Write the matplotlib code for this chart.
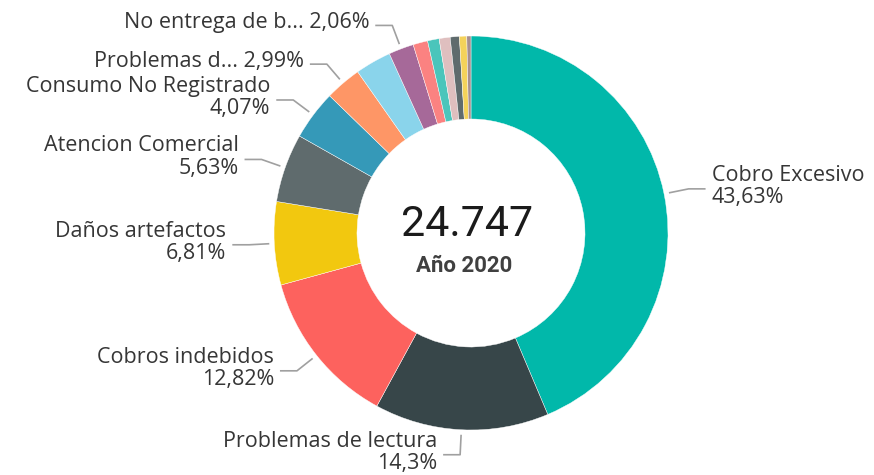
import numpy as np
import matplotlib
matplotlib.use("Agg")
import matplotlib.pyplot as plt

# ---------------- data ----------------
categories = ["Cobro Excesivo", "Problemas de lectura", "Cobros indebidos",
              "Daños artefactos", "Atencion Comercial", "Consumo No Registrado",
              "Problemas d...", "Otro 1", "No entrega de b...", "Otro 2",
              "Otro 3", "Otro 4", "Otro 5", "Otro 6", "Otro 7"]
values = [43.63, 14.30, 12.82, 6.81, 5.63, 4.07, 2.99, 2.95, 2.06,
          1.20, 0.95, 0.90, 0.75, 0.60, 0.34]
shown = [True, True, True, True, True, True, True, False, True,
         False, False, False, False, False, False]
inline = [False, False, False, False, False, False, True, False, True,
          False, False, False, False, False, False]
total_label = "24.747"
year_label = "Año 2020"

colors = ["#01B8AA", "#374649", "#FD625E", "#F2C80F", "#5F6B6D", "#3599B8",
          "#FE9666", "#8AD4EB", "#A66999", "#FB8281", "#4AC5BB", "#DFBFBF",
          "#5F6B6D", "#F4D25A", "#A78F8F"]

# ---------------- layout ----------------
W, H = 874, 475
cx, cy_top = 471, 233
R, ring = 197, 83
FONT = ["Open Sans", "DejaVu Sans"]
TXT = "#363636"
LINE = "#a0a0a0"

fig = plt.figure(figsize=(W / 100, H / 100), dpi=100)
ax = fig.add_axes([0, 0, 1, 1])
cy = H - cy_top

wedges, _ = ax.pie(values, colors=colors, startangle=90, counterclock=False,
                   radius=R, center=(cx, cy),
                   wedgeprops=dict(width=ring, edgecolor="white", linewidth=0.3))
ax.set_xlim(0, W)
ax.set_ylim(0, H)
ax.set_aspect("equal")
ax.axis("off")


def fmt(v):
    s = f"{v:.2f}".rstrip("0").rstrip(".")
    return s.replace(".", ",") + "%"


for w, name, v, sh, inl in zip(wedges, categories, values, shown, inline):
    if not sh:
        continue
    mid = np.deg2rad((w.theta1 + w.theta2) / 2)
    ux, uy = np.cos(mid), np.sin(mid)
    sx, sy = cx + (R + 5) * ux, cy + (R + 5) * uy
    ex, ey = cx + (R + 25) * ux, cy + (R + 25) * uy
    side = 1 if ux > 0 else -1
    hx = ex + side * 17
    ax.plot([sx, ex, hx], [sy, ey, ey], color=LINE, lw=1.2,
            solid_capstyle="butt")
    label = f"{name} {fmt(v)}" if inl else f"{name}\n{fmt(v)}"
    ax.text(hx + side * 6, ey + 2.5, label, ha="left" if side > 0 else "right",
            va="center", multialignment="left" if side > 0 else "right",
            fontsize=15.5, color=TXT, family=FONT, linespacing=1.08)

ax.text(cx - 4, cy + 9, total_label, ha="center", va="center",
        fontsize=31, color="#1b1b1b", family=["Roboto", "DejaVu Sans"])
ax.text(cx - 7, cy - 33, year_label, ha="center", va="center",
        fontsize=16, color="#404040", family=["Roboto", "DejaVu Sans"],
        fontweight="bold")

fig.savefig("out.png", dpi=100, facecolor="white")
